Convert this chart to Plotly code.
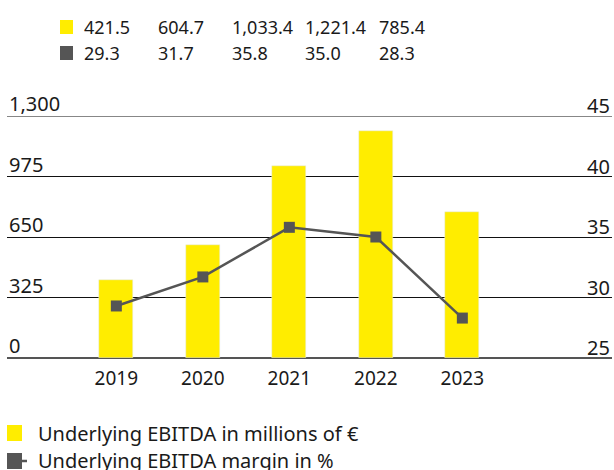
import plotly.graph_objects as go

years = ["2019", "2020", "2021", "2022", "2023"]
ebitda = [421.5, 604.7, 1033.4, 1221.4, 785.4]
margin = [29.3, 31.7, 35.8, 35.0, 28.3]
ebitda_labels = ["421.5", "604.7", "1,033.4", "1,221.4", "785.4"]
margin_labels = ["29.3", "31.7", "35.8", "35.0", "28.3"]
left_ticks = [0, 325, 650, 975, 1300]
left_ticktext = ["0", "325", "650", "975", "1,300"]
right_ticks = [25, 30, 35, 40, 45]
right_ticktext = ["25", "30", "35", "40", "45"]
legend_names = ["Underlying EBITDA in millions of €", "Underlying EBITDA margin in %"]

YELLOW = "#FFED00"
GREY = "#555555"
FONT = "Noto Sans"
TXT = "#1a1a1a"

L, R, T, B = 7, 612, 116, 358
PW, PH = R - L, B - T

def px(x):
    return (x - L) / PW

def py(y):
    return (B - y) / PH

fig = go.Figure()
fig.add_trace(go.Bar(x=list(range(len(years))), y=ebitda, marker_color=YELLOW,
                     width=0.393, name=legend_names[0], yaxis="y"))
fig.add_trace(go.Scatter(x=list(range(len(years))), y=margin, mode="lines+markers",
                         line=dict(color=GREY, width=2.5),
                         marker=dict(symbol="square", size=11, color=GREY),
                         name=legend_names[1], yaxis="y2"))

# top gridline (at the plot edge)
fig.add_shape(type="line", xref="paper", yref="y", x0=0, x1=1, y0=left_ticks[-1], y1=left_ticks[-1],
              line=dict(color="#111111", width=1), layer="below")

# top value table
col_x = [82, 156, 230, 303, 377]
for i in range(len(years)):
    for labels, yc in [(ebitda_labels, 27), (margin_labels, 53)]:
        fig.add_annotation(x=px(col_x[i]), y=py(yc), xref="paper", yref="paper",
                           text=labels[i], showarrow=False, xanchor="left", yanchor="middle",
                           font=dict(size=18, color=TXT, family=FONT))
for yc, col in [(27, YELLOW), (53, GREY)]:
    fig.add_shape(type="rect", xref="paper", yref="paper",
                  x0=px(60), x1=px(73), y0=py(yc + 7), y1=py(yc - 7),
                  fillcolor=col, line_width=0)

# axis labels (above gridlines)
for v, t in zip(left_ticks, left_ticktext):
    fig.add_annotation(x=0, y=v, xref="paper", yref="y", text=t, showarrow=False,
                       xanchor="left", yanchor="bottom", yshift=-3,
                       font=dict(size=20, color=TXT, family=FONT))
for v, t in zip(right_ticks, right_ticktext):
    fig.add_annotation(x=px(612), y=v, xref="paper", yref="y2", text=t, showarrow=False,
                       xanchor="right", yanchor="bottom", yshift=-5,
                       font=dict(size=20, color=TXT, family=FONT))

# manual legend
fig.add_shape(type="rect", xref="paper", yref="paper", x0=px(7), x1=px(22),
              y0=py(441), y1=py(425), fillcolor=YELLOW, line_width=0)
fig.add_shape(type="line", xref="paper", yref="paper", x0=px(20), x1=px(27),
              y0=py(461), y1=py(461), line=dict(color=GREY, width=2.5))
fig.add_shape(type="rect", xref="paper", yref="paper", x0=px(7), x1=px(22),
              y0=py(469), y1=py(453), fillcolor=GREY, line_width=0)
for name, yc in zip(legend_names, [433, 460]):
    fig.add_annotation(x=px(36), y=py(yc), xref="paper", yref="paper", text=name,
                       showarrow=False, xanchor="left", yanchor="middle",
                       font=dict(size=20, color=TXT, family=FONT))

fig.update_layout(
    width=614, height=470,
    margin=dict(l=L, r=614 - R, t=T, b=470 - B, autoexpand=False),
    paper_bgcolor="white", plot_bgcolor="white",
    font=dict(family=FONT, size=18, color=TXT),
    showlegend=False,
    xaxis=dict(range=[-1.264, 5.73], tickvals=list(range(len(years))), ticktext=years,
               showgrid=False, zeroline=False, showline=False, automargin=False,
               ticks="outside", ticklen=3, tickcolor="rgba(0,0,0,0)",
               tickfont=dict(size=19, color=TXT, family=FONT)),
    yaxis=dict(range=[0, 1300], tickvals=left_ticks, showticklabels=False,
               showgrid=True, gridcolor="#111111", gridwidth=1, automargin=False,
               zeroline=True, zerolinecolor=GREY, zerolinewidth=2, showline=False),
    yaxis2=dict(range=[25, 45], tickvals=right_ticks, overlaying="y", side="right",
                showgrid=False, zeroline=False, showline=False, showticklabels=False,
                automargin=False),
    bargap=0,
)

fig.write_html("out.html", config={"displayModeBar": False},
               post_script="document.body.style.margin='0px';document.body.style.overflow='hidden';")
